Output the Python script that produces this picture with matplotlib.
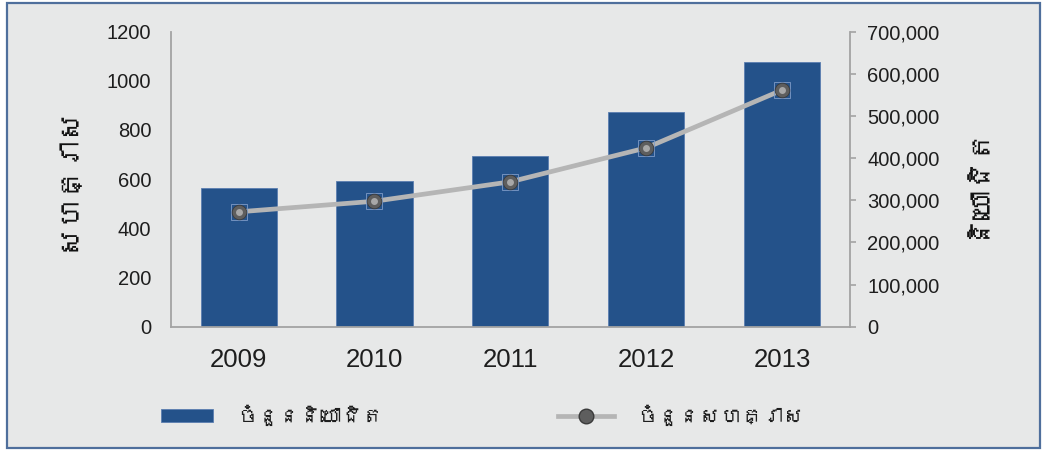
import matplotlib
matplotlib.use("Agg")
import matplotlib.pyplot as plt
from matplotlib import font_manager
from matplotlib.patches import Rectangle
from matplotlib.lines import Line2D
from matplotlib.ticker import FuncFormatter, MultipleLocator

# ---------------- data ----------------
years = ["2009", "2010", "2011", "2012", "2013"]
employees = [330000, 345000, 405000, 508000, 627000]   # bars, right axis
enterprises = [467, 510, 589, 727, 962]                 # line, left axis

left_label = "សហគ្រាស"
right_label = "និយោជិត"
bar_legend = "ចំនួននិយោជិត"
line_legend = "ចំនួនសហគ្រាស"

# ---------------- fonts ----------------
def find_khmer_font():
    try:
        from fontTools.ttLib import TTFont
    except Exception:
        return None
    for f in font_manager.fontManager.ttflist:
        try:
            t = TTFont(f.fname, fontNumber=0, lazy=True)
            cmap = t.getBestCmap()
            if cmap and 0x179F in cmap:
                return f.name
        except Exception:
            continue
    return None

khmer = find_khmer_font()
num_family = ["Liberation Sans", "DejaVu Sans"]
khmer_family = ([khmer] if khmer else []) + ["Liberation Sans", "DejaVu Sans"]
plt.rcParams["font.family"] = num_family

# ---------------- figure ----------------
W, H = 1044, 451
fig = plt.figure(figsize=(W / 100, H / 100), dpi=100, facecolor="white")

bg = "#E7E8E8"
frame = Rectangle((7 / W, 1 - 448 / H), (1040 - 7) / W, (448 - 3) / H,
                  transform=fig.transFigure, facecolor=bg, edgecolor="#4F6F9C",
                  linewidth=1.6, zorder=-5)
fig.patches.append(frame)

x0, x1 = 170.7, 850.0
ytop, ybot = 31.5, 326.7
ax = fig.add_axes([x0 / W, 1 - ybot / H, (x1 - x0) / W, (ybot - ytop) / H])
ax2 = ax.twinx()

spine_c = "#A3A3A3"
bar_c = "#24528A"
line_c = "#B5B5B5"
txt_c = "#1E1E1E"

xs = list(range(len(years)))

# bars on right axis
ax2.bar(xs, employees, width=0.56, color=bar_c, edgecolor="#5B7DB0",
        linewidth=0.6, zorder=2)
ax2.set_ylim(0, 700000)
ax2.yaxis.set_major_locator(MultipleLocator(100000))
ax2.yaxis.set_major_formatter(FuncFormatter(lambda v, p: f"{int(v):,}"))

# line on left axis
ax.plot(xs, enterprises, color=line_c, linewidth=3.4, zorder=3,
        solid_capstyle="round")
ax.plot(xs, enterprises, linestyle="none", marker="s", markersize=11.5,
        markerfacecolor="none", markeredgecolor="#7F9CC8",
        markeredgewidth=0.6, zorder=4)
ax.plot(xs, enterprises, linestyle="none", marker="o", markersize=10.5,
        markerfacecolor="#5E5E5E", markeredgecolor="#3A3A3A",
        markeredgewidth=0.6, zorder=5)
ax.plot(xs, enterprises, linestyle="none", marker="o", markersize=5,
        markerfacecolor="#A8A8A8", markeredgecolor="none", zorder=6)
ax.set_ylim(0, 1200)
ax.yaxis.set_major_locator(MultipleLocator(200))
ax.set_xlim(-0.5, len(years) - 0.5)

ax.set_zorder(ax2.get_zorder() + 1)
ax.patch.set_visible(False)
ax2.patch.set_visible(False)

# spines
for a in (ax, ax2):
    a.spines["top"].set_visible(False)
    for s in ("left", "right", "bottom"):
        a.spines[s].set_color(spine_c)
        a.spines[s].set_linewidth(1.3)
ax.spines["right"].set_visible(False)
ax2.spines["left"].set_visible(False)
ax2.spines["bottom"].set_visible(False)

ax.set_xticks(xs)
ax.set_xticklabels(years)
ax.tick_params(axis="x", length=0, pad=15, labelsize=18.5, colors=txt_c)
ax.tick_params(axis="y", length=0, pad=14, labelsize=14.5, colors=txt_c)
ax2.tick_params(axis="y", length=4.5, width=1.2, color=spine_c, pad=8,
                labelsize=14.5, labelcolor=txt_c, direction="out")

# axis titles
fig.text(67 / W, 1 - 178 / H, left_label, rotation=90, ha="center",
         va="center", fontsize=21, fontweight="bold", family=khmer_family,
         color="#111111")
fig.text(975 / W, 1 - 180 / H, right_label, rotation=90, ha="center",
         va="center", fontsize=21, fontweight="bold", family=khmer_family,
         color="#111111")

# legend (two single-entry legends, placed independently)
bar_handle = Rectangle((0, 0), 1, 1, facecolor=bar_c, edgecolor="#5B7DB0",
                       linewidth=0.6)
line_handle = Line2D([0], [0], color=line_c, linewidth=3.4, marker="o",
                     markersize=10.5, markerfacecolor="#5E5E5E",
                     markeredgecolor="#3A3A3A")
common = dict(loc="center left", frameon=False, borderpad=0,
              borderaxespad=0, handleheight=0.6,
              prop={"family": khmer_family, "size": 15})
leg1 = fig.legend([bar_handle], [bar_legend],
                  bbox_to_anchor=(161 / W, 1 - 415 / H),
                  handlelength=2.5, handletextpad=1.15, **common)
leg2 = fig.legend([line_handle], [line_legend],
                  bbox_to_anchor=(558 / W, 1 - 415 / H),
                  handlelength=2.7, handletextpad=1.1, **common)
for lg in (leg1, leg2):
    for t in lg.get_texts():
        t.set_color(txt_c)

fig.savefig("out.png", dpi=100, facecolor="white")
